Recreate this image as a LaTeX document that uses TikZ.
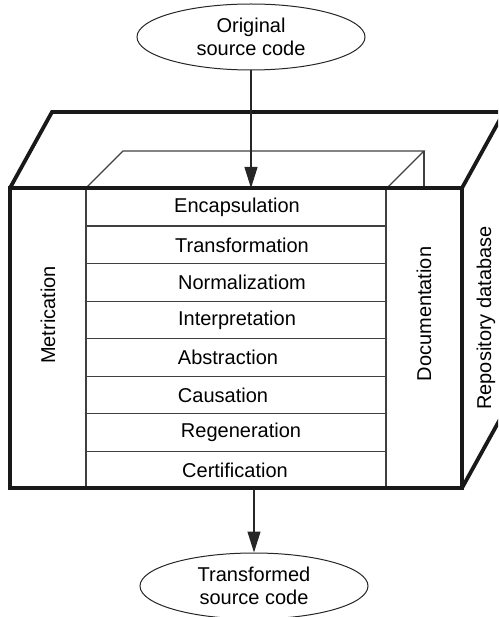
\documentclass[tikz,border=0pt]{standalone}
\usepackage{fontspec}
\setmainfont{Liberation Sans}
\usetikzlibrary{shapes.geometric,arrows.meta}
\begin{document}
\begin{tikzpicture}[x=1pt,y=-1pt,
  every node/.style={font=\fontsize{20}{23}\selectfont, text=black},
  thin line/.style={draw=black!75, line width=1.2pt},
  thick line/.style={draw=black!90, line width=3.8pt, line join=miter},
  rowbox/.style={thin line, rectangle, minimum width=300pt, minimum height=37.5pt, inner sep=0pt, anchor=north west},
  lbl/.style={inner sep=0pt},
  oval/.style={draw=black!85, line width=1pt, ellipse, minimum width=228pt, minimum height=66pt, inner sep=0pt, align=center},
  arr/.style={draw=black!85, line width=1.1pt, -{Triangle[length=21pt,width=13pt]}}
]
\useasboundingbox (0,0) rectangle (498,617);
\begin{scope}
\clip (0,0) rectangle (498,617);
% inner top box
\draw[thin line] (86,188) -- (123,151) -- (424,151) -- (387,188);
\draw[thin line] (424,151) -- (424,188);
% rows
\node[rowbox] (r1) at (86,188) {};
\node[rowbox] (r2) at (86,225.5) {};
\node[rowbox] (r3) at (86,263) {};
\node[rowbox] (r4) at (86,300.5) {};
\node[rowbox] (r5) at (86,338) {};
\node[rowbox] (r6) at (86,375.5) {};
\node[rowbox] (r7) at (86,413) {};
\node[rowbox] (r8) at (86,450.5) {};
\node[lbl] at (237,207.5) {Encapsulation};
\node[lbl] at (242,245) {Transformation};
\node[lbl] at (242,282.5) {Normalizatiom};
\node[lbl] at (237,320) {Interpretation};
\node[lbl] at (228,357.5) {Abstraction};
\node[lbl] at (223,395) {Causation};
\node[lbl] at (241,432.5) {Regeneration};
\node[lbl] at (235,470) {Certification};
% side columns
\draw[thin line] (10,188) rectangle (86,488);
\draw[thin line] (386,188) rectangle (462,488);
\node[lbl, rotate=90] (met) at (48,315) {Metrication};
\node[lbl, rotate=90] (doc) at (424,314) {Documentation};
\node[lbl, rotate=90] (rep) at (486,318) {Repository database};
% outer box
\draw[thick line] (10,188) rectangle (462,488);
\draw[thick line] (10,188) -- (52,112) -- (504,112) -- (462,188);
\draw[thick line] (462,488) -- (504,412) -- (504,112);
% ellipses
\node[oval] (orig) at (251,37) {Original\\source code};
\node[oval] (trans) at (254,586) {Transformed\\source code};
\draw[arr] (orig.south) -- (orig.south |- r1.north);
\draw[arr] (trans.north |- r8.south) -- (trans.north);
\end{scope}
\end{tikzpicture}
\end{document}
